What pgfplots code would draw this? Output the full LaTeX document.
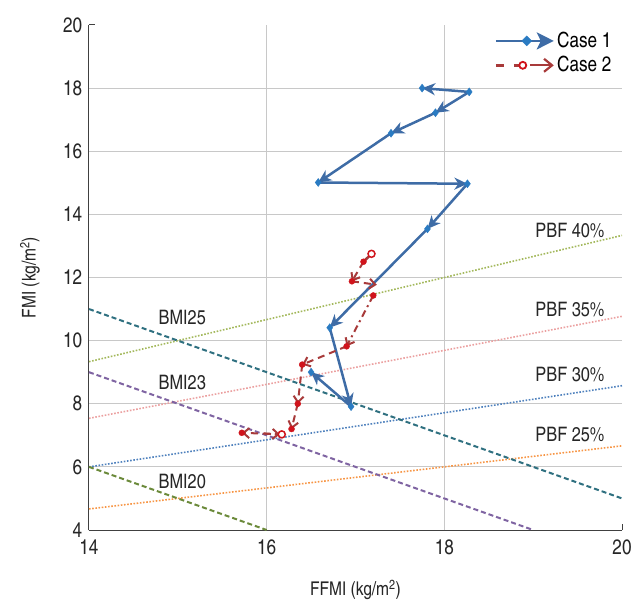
\documentclass[border=0pt]{standalone}
\usepackage{fontspec}
\setmainfont{TeX Gyre Heros Cn}
\usepackage{pgfplots}
\pgfplotsset{compat=1.18}
\usetikzlibrary{arrows.meta}

\definecolor{gridgray}{HTML}{C8C8C8}
\definecolor{caseone}{HTML}{3E6CA6}
\definecolor{caseonemk}{HTML}{2A7BC2}
\definecolor{casetwo}{HTML}{A83A3A}
\definecolor{casetwomk}{HTML}{D0141C}
\definecolor{pbfforty}{HTML}{A3B85C}
\definecolor{pbfthirtyfive}{HTML}{EBA0A0}
\definecolor{pbfthirty}{HTML}{4F81BD}
\definecolor{pbftwentyfive}{HTML}{F79646}
\definecolor{bmitwentyfive}{HTML}{2F7080}
\definecolor{bmitwentythree}{HTML}{7F64A2}
\definecolor{bmitwenty}{HTML}{6B8A3A}

\tikzset{
  c1/.style={caseone, line width=2.5bp, -{Stealth[length=13bp,width=12bp,inset=4bp]}},
  c2/.style={casetwo, line width=2bp, dash pattern=on 7bp off 5bp, -{Straight Barb[length=6bp,width=10bp,line width=2bp]}},
  pbf/.style={line width=1.6bp, dash pattern=on 1.6bp off 1.6bp},
  bmi/.style={line width=2bp, dash pattern=on 5bp off 3bp},
}

\begin{document}
\fontsize{20}{24}\selectfont
\begin{tikzpicture}
\begin{axis}[
  name=ax,
  scale only axis,
  width=533bp, height=505bp,
  xmin=14, xmax=20, ymin=4, ymax=20,
  xtick={14,16,18,20}, ytick={4,6,...,20},
  extra x ticks={16,18}, extra x tick labels={},
  extra y ticks={6,8,...,18}, extra y tick labels={},
  extra tick style={grid=major, major tick length=0pt},
  major grid style={gridgray, line width=1.2bp},
  axis x line*=bottom, axis y line*=left,
  axis line style={black!75, line width=1bp},
  tick style={black!75, line width=1bp},
  major tick length=6bp, tick align=inside,
  /pgf/number format/assume math mode=true,
  ticklabel style={font=\fontsize{21}{25}\selectfont, text=black!85},
  xticklabel style={yshift=-3bp},
  xlabel={FFMI (kg/m\textsuperscript{2})},
  ylabel={FMI (kg/m\textsuperscript{2})},
  label style={font=\fontsize{19}{23}\selectfont, text=black!85},
  xlabel style={at={(axis description cs:0.5,-0.119)}, anchor=center},
  ylabel style={at={(axis description cs:-0.111,0.5)}, anchor=center},
  legend cell align=left,
  legend style={draw=none, fill=none, at={(axis description cs:0.99,0.995)}, anchor=north east,
    font=\fontsize{21}{25}\selectfont, row sep=2bp},
  clip=false,
]
% reference lines: PBF (dotted)
\addplot[pbf, pbfforty, forget plot] coordinates {(14,9.333) (20,13.333)};
\addplot[pbf, pbfthirtyfive, forget plot] coordinates {(14,7.538) (20,10.769)};
\addplot[pbf, pbfthirty, forget plot] coordinates {(14,6.0) (20,8.571)};
\addplot[pbf, pbftwentyfive, forget plot] coordinates {(14,4.667) (20,6.667)};
% reference lines: BMI (dashed)
\addplot[bmi, bmitwentyfive, forget plot] coordinates {(14,11) (20,5)};
\addplot[bmi, bmitwentythree, forget plot] coordinates {(14,9) (19,4)};
\addplot[bmi, bmitwenty, forget plot] coordinates {(14,6) (16,4)};

\node[anchor=east, text=black!85] at (axis cs:19.88,13.5) {PBF 40\%};
\node[anchor=east, text=black!85] at (axis cs:19.88,10.98) {PBF 35\%};
\node[anchor=east, text=black!85] at (axis cs:19.88,8.92) {PBF 30\%};
\node[anchor=east, text=black!85] at (axis cs:19.88,7.03) {PBF 25\%};
\node[text=black!85] at (axis cs:15.05,10.73) {BMI25};
\node[text=black!85] at (axis cs:15.05,8.67) {BMI23};
\node[text=black!85] at (axis cs:15.05,5.54) {BMI20};

% Case 1 segments
\addplot[c1, forget plot] coordinates {(18.28,17.88) (17.75,18.0)};
\addplot[c1, forget plot] coordinates {(18.28,17.88) (17.90,17.22)};
\addplot[c1, forget plot] coordinates {(17.90,17.22) (17.40,16.57)};
\addplot[c1, forget plot] coordinates {(17.40,16.57) (16.58,15.01)};
\addplot[c1, forget plot] coordinates {(16.58,15.01) (18.26,14.97)};
\addplot[c1, forget plot] coordinates {(18.26,14.97) (17.81,13.54)};
\addplot[c1, forget plot] coordinates {(17.81,13.54) (16.71,10.41)};
\addplot[c1, forget plot] coordinates {(16.71,10.41) (16.95,7.91)};
\addplot[c1, forget plot] coordinates {(16.95,7.91) (16.50,9.00)};
\addplot[only marks, mark=diamond*, mark size=4bp, caseonemk, forget plot] coordinates {
  (17.75,18.0) (18.28,17.88) (17.90,17.22) (17.40,16.57) (16.58,15.01)
  (18.26,14.97) (17.81,13.54) (16.71,10.41) (16.95,7.91) (16.50,9.00)};

% Case 2 segments
\addplot[casetwo, line width=2.5bp, forget plot] coordinates {(17.18,12.75) (17.09,12.50)};
\addplot[c2, forget plot] coordinates {(17.09,12.50) (16.96,11.88)};
\addplot[c2, forget plot] coordinates {(16.96,11.88) (17.24,11.77)};
\addplot[c2, dash pattern=on 7bp off 4bp on 2bp off 4bp, forget plot] coordinates {(17.20,11.43) (16.90,9.82)};
\addplot[c2, forget plot] coordinates {(16.90,9.82) (16.40,9.24)};
\addplot[c2, forget plot] coordinates {(16.40,9.24) (16.35,8.00)};
\addplot[c2, forget plot] coordinates {(16.35,8.00) (16.28,7.20)};
\addplot[c2, forget plot] coordinates {(15.97,7.06) (16.15,7.03)};
\addplot[c2, forget plot] coordinates {(16.17,7.03) (15.72,7.08)};
\addplot[only marks, mark=*, mark size=3bp, casetwomk, forget plot] coordinates {
  (17.09,12.50) (16.96,11.88) (17.20,11.43) (16.90,9.82) (16.40,9.24)
  (16.35,8.00) (16.28,7.20) (15.72,7.08)};
\addplot[only marks, mark=*, mark size=3.5bp, mark options={draw=casetwomk, fill=white, line width=1.5bp}, forget plot] coordinates {
  (17.18,12.75) (16.17,7.03)};

% legend
\addlegendimage{legend image code/.code={
  \draw[caseone, line width=2.5bp, -{Stealth[length=17bp,width=17bp,inset=4bp]}] (-10bp,0bp) -- (48bp,0bp);
  \fill[caseonemk] (21bp,5bp) -- (26bp,0bp) -- (21bp,-5bp) -- (16bp,0bp) -- cycle;}}
\addlegendentry{Case 1}
\addlegendimage{legend image code/.code={
  \draw[casetwo, line width=2.5bp] (-10bp,0bp) -- (-2bp,0bp);
  \draw[casetwo, line width=2.5bp] (8bp,0bp) -- (14bp,0bp);
  \draw[casetwo, line width=2.2bp, -{Straight Barb[length=8bp,width=13bp,line width=2.2bp]}] (24bp,0bp) -- (48bp,0bp);
  \draw[casetwomk, fill=white, line width=1.8bp] (17bp,0bp) circle (3.5bp);}}
\addlegendentry{Case 2}
\end{axis}
\pgfresetboundingbox
\path[use as bounding box] (ax.south west) ++(-89bp,-75bp) rectangle ++(632bp,605bp);
\end{tikzpicture}
\end{document}
